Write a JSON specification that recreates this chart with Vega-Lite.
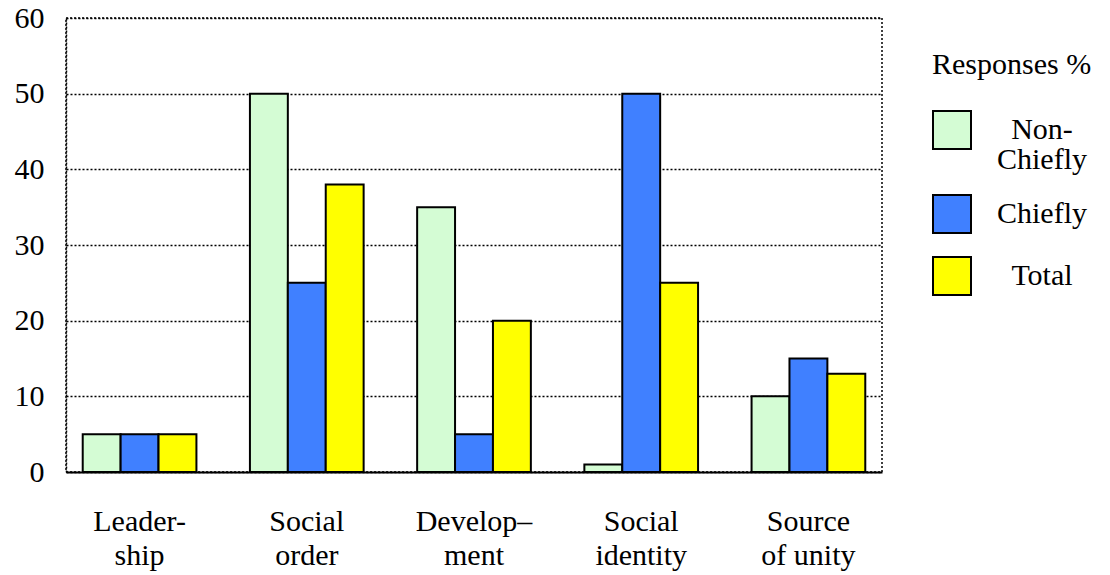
{
  "$schema": "https://vega.github.io/schema/vega-lite/v6.json",
  "width": 816,
  "height": 454,
  "autosize": {"type": "none"},
  "padding": {"left": 66, "top": 18, "right": 228, "bottom": 103},
  "background": "white",
  "config": {
    "view": {"stroke": "black", "strokeDash": [2, 2], "strokeWidth": 1.5}
  },
  "data": {
    "values": [
      {"category": "Leader-\nship", "group": "Non-Chiefly", "pct": 5},
      {"category": "Leader-\nship", "group": "Chiefly", "pct": 5},
      {"category": "Leader-\nship", "group": "Total", "pct": 5},
      {"category": "Social\norder", "group": "Non-Chiefly", "pct": 50},
      {"category": "Social\norder", "group": "Chiefly", "pct": 25},
      {"category": "Social\norder", "group": "Total", "pct": 38},
      {"category": "Develop–\nment", "group": "Non-Chiefly", "pct": 35},
      {"category": "Develop–\nment", "group": "Chiefly", "pct": 5},
      {"category": "Develop–\nment", "group": "Total", "pct": 20},
      {"category": "Social\nidentity", "group": "Non-Chiefly", "pct": 1},
      {"category": "Social\nidentity", "group": "Chiefly", "pct": 50},
      {"category": "Social\nidentity", "group": "Total", "pct": 25},
      {"category": "Source\nof unity", "group": "Non-Chiefly", "pct": 10},
      {"category": "Source\nof unity", "group": "Chiefly", "pct": 15},
      {"category": "Source\nof unity", "group": "Total", "pct": 13}
    ]
  },
  "mark": {"type": "bar", "stroke": "black", "strokeWidth": 2},
  "encoding": {
    "x": {
      "field": "category",
      "type": "nominal",
      "sort": null,
      "scale": {"paddingInner": 0.32, "paddingOuter": 0.1},
      "axis": {
        "title": null,
        "labelAngle": 0,
        "labelExpr": "split(datum.label, '\\n')",
        "labelFont": "Liberation Serif",
        "labelFontSize": 30,
        "labelLineHeight": 34,
        "labelPadding": 34,
        "ticks": false,
        "domainColor": "black",
        "domainWidth": 2
      }
    },
    "xOffset": {"field": "group", "type": "nominal", "sort": ["Non-Chiefly", "Chiefly", "Total"]},
    "y": {
      "field": "pct",
      "type": "quantitative",
      "scale": {"domain": [0, 60], "nice": false},
      "axis": {
        "title": null,
        "values": [0, 10, 20, 30, 40, 50, 60],
        "labelFont": "Liberation Serif",
        "labelFontSize": 30,
        "labelPadding": 22,
        "ticks": false,
        "domainColor": "black",
        "domainDash": [2, 2],
        "domainWidth": 1.5,
        "gridColor": "black",
        "gridDash": [2, 2],
        "gridWidth": 1.5,
        "gridOpacity": 1
      }
    },
    "color": {
      "field": "group",
      "type": "nominal",
      "sort": ["Non-Chiefly", "Chiefly", "Total"],
      "scale": {"domain": ["Non-Chiefly", "Chiefly", "Total"], "range": ["#D4FCD4", "#4080FF", "#FFFF00"]},
      "legend": {
        "title": "Responses %",
        "orient": "none",
        "legendX": 866,
        "legendY": 32,
        "titleFont": "Liberation Serif",
        "titleFontSize": 30,
        "titleFontWeight": "normal",
        "titlePadding": 30,
        "symbolType": "square",
        "symbolSize": 1444,
        "symbolStrokeColor": "black",
        "symbolStrokeWidth": 2,
        "symbolOpacity": 1,
        "labelFont": "Liberation Serif",
        "labelFontSize": 30,
        "labelAlign": "center",
        "labelOffset": 70,
        "labelLimit": 300,
        "rowPadding": 16,
        "encode": {
          "labels": {
            "update": {
              "text": {"signal": "datum.label == 'Non-Chiefly' ? ['Non-', 'Chiefly'] : datum.label"},
              "lineHeight": {"value": 30}
            }
          }
        }
      }
    }
  }
}
